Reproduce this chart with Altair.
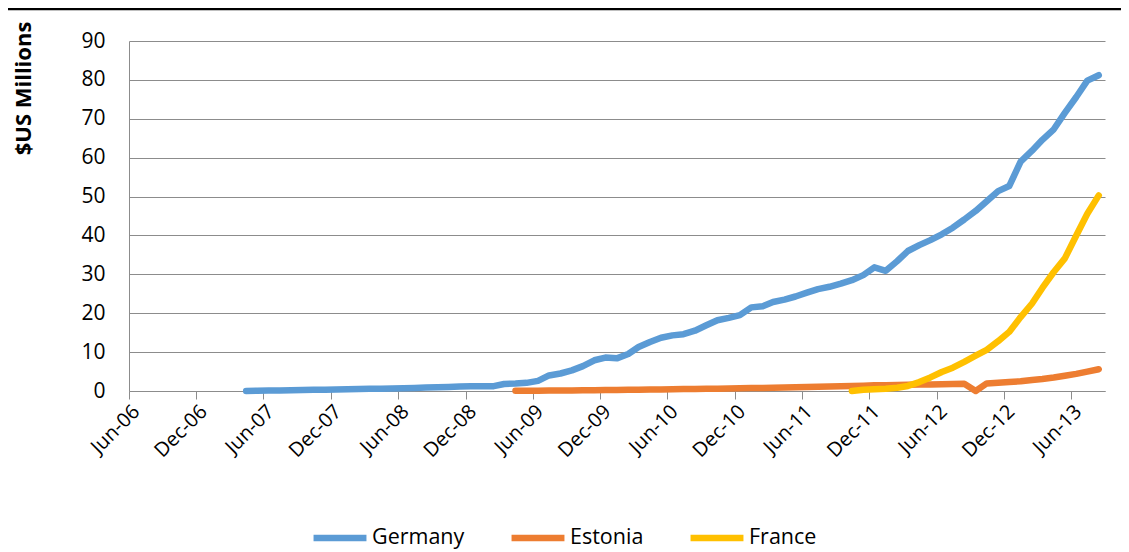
import altair as alt
import pandas as pd

# ---- data (monthly, $US millions) ----
series_names = ["Germany", "Estonia", "France"]
series_colors = ["#5B9BD5", "#ED7D31", "#FFC000"]
series_starts = ["2007-04", "2009-04", "2011-10"]

germany = [
    0.0, 0.05, 0.1, 0.15, 0.2, 0.25, 0.3, 0.35, 0.4,                      # 2007 Apr-Dec
    0.45, 0.5, 0.55, 0.6, 0.65, 0.7, 0.8, 0.9, 0.95, 1.05, 1.15, 1.2,     # 2008
    1.2, 1.25, 1.8, 1.9, 2.1, 2.6, 4.0, 4.5, 5.3, 6.4, 7.9, 8.6,          # 2009
    8.4, 9.5, 11.3, 12.6, 13.7, 14.3, 14.6, 15.5, 16.9, 18.2, 18.8, 19.5, # 2010
    21.5, 21.8, 22.9, 23.5, 24.3, 25.3, 26.2, 26.8, 27.6, 28.5, 29.8, 31.8,  # 2011
    30.9, 33.4, 36.0, 37.5, 38.8, 40.3, 42.0, 44.1, 46.3, 48.8, 51.4, 52.7,  # 2012
    59.0, 61.8, 64.6, 67.3, 71.5, 75.6, 79.8, 81.2,                       # 2013 Jan-Aug
]
estonia = [
    0.05, 0.07, 0.09, 0.11, 0.13, 0.15, 0.18, 0.21, 0.24,                 # 2009 Apr-Dec
    0.27, 0.3, 0.33, 0.37, 0.41, 0.45, 0.49, 0.53, 0.57, 0.61, 0.65, 0.7, # 2010
    0.75, 0.8, 0.85, 0.9, 0.95, 1.0, 1.08, 1.15, 1.22, 1.3, 1.37, 1.45,   # 2011
    1.5, 1.55, 1.6, 1.65, 1.7, 1.75, 1.8, 1.85, 0.0, 1.95, 2.1, 2.3,      # 2012
    2.5, 2.85, 3.1, 3.45, 3.9, 4.4, 5.0, 5.6,                              # 2013 Jan-Aug
]
france = [
    0.0, 0.3, 0.45,                                                        # 2011 Oct-Dec
    0.6, 0.85, 1.3, 2.3, 3.5, 4.9, 6.0, 7.5, 9.1, 10.6, 12.8, 15.2,        # 2012
    19.0, 22.5, 26.5, 30.6, 34.1, 40.0, 45.6, 50.3,                        # 2013 Jan-Aug
]

y_ticks = [0, 10, 20, 30, 40, 50, 60, 70, 80, 90]
x_tick_months = [(2006, 6), (2006, 12), (2007, 6), (2007, 12), (2008, 6), (2008, 12),
                 (2009, 6), (2009, 12), (2010, 6), (2010, 12), (2011, 6), (2011, 12),
                 (2012, 6), (2012, 12), (2013, 6)]

rows = []
for name, start, vals in zip(series_names, series_starts, [germany, estonia, france]):
    dates = pd.date_range(start + "-15", periods=len(vals), freq=pd.DateOffset(months=1))
    for d, v in zip(dates, vals):
        rows.append({"date": d.strftime("%Y-%m-%dT00:00:00"), "series": name, "value": v})
df = pd.DataFrame(rows)

FONT = "Open Sans"
GRID = "#8C8C8C"
LW = 6.5

x_values = [alt.DateTime(year=y, month=m, date=1) for y, m in x_tick_months]

lines = alt.Chart(df).mark_line(
    strokeWidth=LW, strokeCap="round", strokeJoin="round"
).encode(
    x=alt.X(
        "date:T",
        scale=alt.Scale(domain=[alt.DateTime(year=2006, month=6, date=1),
                                alt.DateTime(year=2013, month=9, date=1)], nice=False),
        axis=alt.Axis(
            values=x_values, format="%b-%y", labelAngle=-45, labelAlign="right",
            labelBaseline="top", labelFontSize=20, labelFont=FONT, labelColor="black",
            labelPadding=2, labelFlush=False, labelOverlap=False,
            tickSize=8, tickColor=GRID, domainColor=GRID, grid=False, title=None,
        ),
    ),
    y=alt.Y(
        "value:Q",
        scale=alt.Scale(domain=[0, 90], nice=False),
        axis=alt.Axis(
            values=y_ticks, grid=True, gridColor=GRID, gridWidth=1,
            domainColor=GRID, ticks=False, labelFontSize=21, labelFont=FONT,
            labelColor="black", labelPadding=24,
            title="$US Millions", titleFont=FONT, titleFontSize=22,
            titleFontWeight="bold", titleColor="black", titleAngle=-90,
            titleX=-106, titleY=47, titleAlign="center", titleBaseline="middle",
        ),
    ),
    color=alt.Color(
        "series:N",
        scale=alt.Scale(domain=series_names, range=series_colors),
        legend=alt.Legend(
            orient="none", legendX=181, legendY=467, direction="horizontal",
            columns=3, title=None, symbolType="stroke", symbolSize=2800,
            symbolStrokeWidth=LW, labelFontSize=21.5, labelFont=FONT,
            labelColor="black", columnPadding=33, labelOffset=2, padding=0,
        ),
    ),
    order=alt.Order("date:T"),
)

top_border = alt.Chart(pd.DataFrame({"a": [0]})).mark_rule(
    color="black", strokeWidth=2.5
).encode(x=alt.value(-121), x2=alt.value(992), y=alt.value(-32))

chart = alt.layer(top_border, lines).properties(
    width=976, height=350,
    autosize=alt.AutoSizeParams(type="none"),
    padding={"left": 121, "top": 33, "right": 16, "bottom": 160},
).configure_view(stroke=None)

chart.save("out.html", embed_options={"renderer": "svg", "actions": False})
